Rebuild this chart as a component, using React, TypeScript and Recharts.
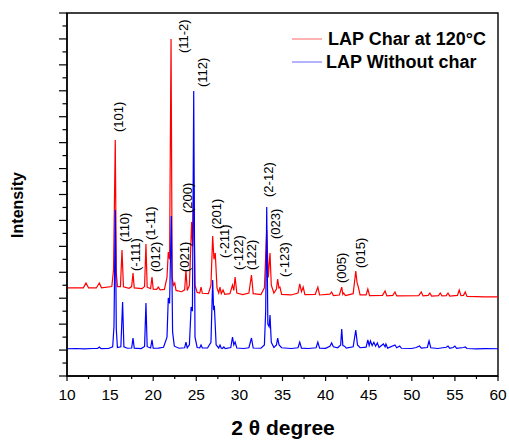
import React from 'react';
import {
  ComposedChart,
  Line,
  Scatter,
  XAxis,
  YAxis,
  Legend,
  ReferenceArea,
} from 'recharts';

const FONT = '"Liberation Sans", Arial, Helvetica, sans-serif';

// 2θ ticks (labelled every 5, minor every 2.5)
const xTicks = [10, 12.5, 15, 17.5, 20, 22.5, 25, 27.5, 30, 32.5, 35, 37.5, 40, 42.5, 45, 47.5, 50, 52.5, 55, 57.5, 60];
// intensity ticks, no labels (major every 200)
const yTicks = [
  0, 100, 200, 300, 400, 500, 600, 700, 800, 900, 1000, 1100, 1200, 1300, 1400,
  1500, 1600, 1700, 1800, 1900, 2000, 2100, 2200, 2300, 2400, 2500, 2600, 2700, 2800,
];

const seriesNames = ['LAP Char at 120°C', 'LAP Without char'];
const seriesColors = ['#ff0000', '#0000ff'];
const legendColors = ['#ff6666', '#6666ff'];

// [2θ, counts]
const charAt120: [number, number][] = [
  [10, 680], [11, 679], [11.9, 680], [12.2, 717], [12.5, 680], [13.4, 679], [13.75, 717], [14.0, 680],
  [15.2, 690], [15.4, 820], [15.6, 1820], [15.72, 800], [15.85, 690], [16.2, 690], [16.38, 972], [16.55, 688],
  [17.2, 676], [17.5, 690], [17.66, 794], [17.8, 680], [18.7, 674], [19.0, 690], [19.16, 1018], [19.3, 685],
  [19.7, 674], [19.86, 764], [20.0, 670], [20.4, 668], [20.6, 686], [20.8, 665], [21.3, 668], [21.6, 760],
  [21.75, 956], [21.9, 900], [22.07, 2599], [22.2, 760], [22.35, 700], [22.5, 717], [22.65, 660], [23.3, 650],
  [23.65, 665], [23.8, 818], [23.95, 660], [24.2, 700], [24.46, 1188], [24.58, 1000], [24.7, 1450], [24.85, 700],
  [25.1, 645], [25.4, 640], [25.55, 686], [25.7, 638], [26.4, 635], [26.7, 700], [26.9, 1080], [27.05, 900],
  [27.2, 949], [27.4, 680], [27.6, 640], [27.75, 686], [27.9, 636], [28.1, 663], [28.3, 630], [28.9, 635],
  [29.2, 702], [29.35, 660], [29.5, 764], [29.7, 640], [30.4, 628], [31.1, 640], [31.4, 779], [31.6, 635],
  [32.5, 628], [32.9, 680], [33.17, 1126], [33.35, 760], [33.55, 949], [33.7, 700], [34.0, 640], [34.3, 670],
  [34.44, 748], [34.58, 680], [34.7, 686], [34.9, 630], [36.0, 625], [36.8, 640], [37.0, 710], [37.2, 650],
  [37.4, 686], [37.6, 628], [38.8, 630], [39.1, 686], [39.3, 625], [40.5, 632], [40.7, 648], [40.9, 620],
  [41.6, 625], [41.87, 686], [42.0, 630], [42.1, 640], [42.3, 620], [43.2, 635], [43.5, 810], [43.65, 720],
  [43.8, 686], [44.0, 625], [44.7, 625], [44.9, 671], [45.1, 620], [46.6, 622], [46.9, 656], [47.1, 618],
  [47.8, 622], [48.05, 648], [48.25, 618], [50.8, 620], [51.1, 648], [51.3, 618], [51.9, 622], [52.1, 640],
  [52.3, 617], [53.1, 620], [53.3, 640], [53.5, 618], [54.0, 620], [54.2, 640], [54.4, 616], [55.3, 622],
  [55.5, 663], [55.7, 620], [56.0, 622], [56.2, 648], [56.4, 614], [57.5, 612], [58.5, 611], [60, 610],
];

const withoutChar: [number, number][] = [
  [10, 210], [11, 212], [12, 210], [13, 212], [13.55, 212], [13.75, 224], [13.95, 211], [14.8, 212],
  [15.3, 225], [15.45, 380], [15.6, 1280], [15.72, 360], [15.85, 220], [16.25, 225], [16.45, 571], [16.6, 225],
  [17.0, 214], [17.5, 216], [17.66, 293], [17.8, 215], [18.6, 212], [19.0, 228], [19.16, 563], [19.3, 226],
  [19.7, 216], [19.86, 278], [20.0, 214], [20.6, 215], [21.2, 222], [21.6, 300], [21.75, 602], [21.9, 560],
  [22.1, 1234], [22.25, 340], [22.45, 230], [23.0, 214], [23.65, 218], [23.8, 262], [23.95, 218], [24.2, 240],
  [24.4, 532], [24.55, 500], [24.7, 2198], [24.85, 300], [25.1, 220], [25.4, 218], [25.55, 239], [25.7, 216],
  [26.3, 216], [26.7, 260], [26.9, 740], [27.0, 520], [27.1, 532], [27.3, 240], [27.6, 216], [27.75, 239],
  [27.9, 215], [28.05, 214], [28.2, 224], [28.35, 212], [29.0, 220], [29.2, 301], [29.35, 240], [29.5, 262],
  [29.7, 216], [30.5, 212], [31.1, 218], [31.4, 293], [31.6, 216], [32.5, 214], [32.9, 240], [33.05, 500],
  [33.17, 1303], [33.3, 400], [33.45, 380], [33.55, 470], [33.7, 260], [34.0, 220], [34.3, 240], [34.44, 293],
  [34.6, 240], [34.9, 218], [36.0, 212], [36.8, 218], [37.0, 262], [37.2, 215], [38.0, 212], [38.9, 218],
  [39.1, 262], [39.3, 214], [40.0, 213], [40.5, 230], [40.7, 255], [40.9, 225], [41.4, 218], [41.75, 240],
  [41.87, 363], [42.0, 235], [42.2, 230], [42.4, 215], [43.2, 225], [43.5, 355], [43.7, 240], [44.0, 218],
  [44.7, 222], [44.9, 278], [45.05, 235], [45.2, 270], [45.4, 235], [45.6, 260], [45.8, 230], [46.0, 255],
  [46.2, 220], [46.7, 247], [46.9, 225], [47.0, 247], [47.2, 215], [48.05, 239], [48.25, 218], [48.6, 231],
  [48.8, 214], [50.0, 212], [50.5, 220], [50.9, 231], [51.1, 215], [51.8, 220], [52.0, 270], [52.2, 218],
  [53.0, 212], [54.0, 222], [54.2, 231], [54.4, 214], [54.8, 220], [55.0, 231], [55.2, 214], [56.0, 220],
  [56.2, 224], [56.4, 212], [57.5, 210], [58.5, 211], [60, 210],
];

// hkl labels: [text, 2θ of label centre, intensity at the label's lower end]
const peakLabels: [string, number, number][] = [
  ['(101)', 15.92, 1882],
  ['(110)', 16.67, 1034],
  ['(-111)', 18.0, 810],
  ['(1-11)', 19.63, 1049],
  ['(012)', 20.32, 802],
  ['(11-2)', 23.5, 2491],
  ['(021)', 23.69, 802],
  ['(200)', 23.98, 1257],
  ['(112)', 25.72, 2229],
  ['(201)', 27.4, 1134],
  ['(-211)', 28.33, 910],
  ['(-122)', 29.84, 818],
  ['(122)', 31.4, 818],
  ['(2-12)', 33.32, 1381],
  ['(023)', 34.19, 1057],
  ['(-123)', 35.23, 764],
  ['(005)', 41.84, 717],
  ['(015)', 44.05, 833],
];

const toPoints = (arr: [number, number][]) => arr.map(([x, y]) => ({ x, y }));
const labelPoints = peakLabels.map(([text, x, y]) => ({ x, y, text }));

const XTick = (props: any) => {
  const { x, y, payload } = props;
  const major = payload.value % 5 === 0;
  return (
    <g>
      <line x1={x} x2={x} y1={y} y2={y + (major ? 5 : 3)} stroke="#000" strokeWidth={1.2} />
      {major && (
        <text x={x} y={y + 24} textAnchor="middle" fontSize={15.5} fontFamily={FONT} fill="#000">
          {payload.value}
        </text>
      )}
    </g>
  );
};

const YTick = (props: any) => {
  const { x, y, payload } = props;
  const major = payload.value % 200 === 0;
  return <line x1={x - (major ? 8 : 4.5)} x2={x} y1={y} y2={y} stroke="#000" strokeWidth={1.2} />;
};

const HklLabel = (props: any) => {
  const { cx, cy, payload } = props;
  const tx = cx + 4.5;
  return (
    <text
      x={tx}
      y={cy}
      transform={`rotate(-90 ${tx} ${cy})`}
      fontSize={13}
      fontFamily={FONT}
      fill="#000"
    >
      {payload.text}
    </text>
  );
};

const LegendBox = () => (
  <svg width={210} height={50} style={{ display: 'block' }}>
    {seriesNames.map((name, i) => (
      <g key={name}>
        <line x1={2} x2={32} y1={11 + i * 23} y2={11 + i * 23} stroke={legendColors[i]} strokeWidth={1} />
        <text x={i === 0 ? 38 : 36} y={17 + i * 23} fontSize={18} fontWeight="bold" fontFamily={FONT} fill="#000">
          {name}
        </text>
      </g>
    ))}
  </svg>
);

export default function App() {
  return (
    <div style={{ width: 509, height: 441, background: '#fff' }}>
      <style>{'body{margin:0}'}</style>
      <ComposedChart width={509} height={441} margin={{ top: 13, right: 11, bottom: 0, left: 0 }}>
        <XAxis
          dataKey="x"
          type="number"
          domain={[10, 60]}
          ticks={xTicks}
          interval={0}
          allowDataOverflow
          height={65}
          tickSize={0}
          tickMargin={0}
          tickLine={false}
          tick={<XTick />}
          axisLine={{ stroke: '#000', strokeWidth: 1.4 }}
          label={{
            content: () => (
              <text x={283} y={435} textAnchor="middle" fontSize={21} fontWeight="bold" fontFamily={FONT} fill="#000">
                2 θ degree
              </text>
            ),
          }}
        />
        <YAxis
          type="number"
          domain={[0, 2800]}
          ticks={yTicks}
          interval={0}
          allowDataOverflow
          width={67}
          tickSize={0}
          tickMargin={0}
          tickLine={false}
          tick={<YTick />}
          axisLine={{ stroke: '#000', strokeWidth: 1.4 }}
          label={{
            content: () => (
              <text
                x={23}
                y={205}
                transform="rotate(-90 23 205)"
                textAnchor="middle"
                fontSize={16}
                fontWeight="bold"
                fontFamily={FONT}
                fill="#000"
              >
                Intensity
              </text>
            ),
          }}
        />
        <ReferenceArea x1={10} x2={60} y1={0} y2={2800} fill="none" stroke="#000" strokeWidth={1.4} ifOverflow="visible" />
        <Legend
          layout="vertical"
          align="center"
          verticalAlign="middle"
          content={() => <LegendBox />}
          wrapperStyle={{ position: 'absolute', left: 290, top: 28, width: 210 }}
        />
        <Line
          data={toPoints(charAt120)}
          dataKey="y"
          name={seriesNames[0]}
          type="linear"
          stroke={seriesColors[0]}
          strokeWidth={1.2}
          dot={false}
          activeDot={false}
          isAnimationActive={false}
        />
        <Line
          data={toPoints(withoutChar)}
          dataKey="y"
          name={seriesNames[1]}
          type="linear"
          stroke={seriesColors[1]}
          strokeWidth={1.2}
          dot={false}
          activeDot={false}
          isAnimationActive={false}
        />
        <Scatter
          data={labelPoints}
          dataKey="y"
          legendType="none"
          shape={<HklLabel />}
          isAnimationActive={false}
        />
      </ComposedChart>
    </div>
  );
}
